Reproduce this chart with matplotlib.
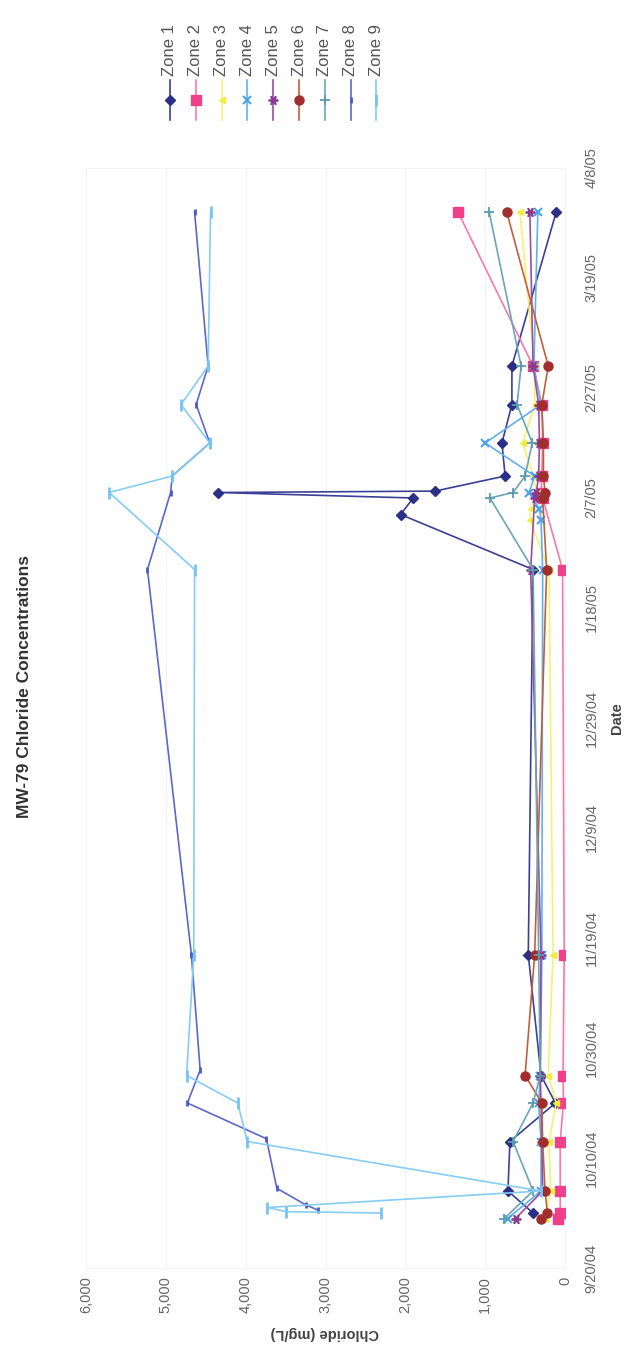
import matplotlib
matplotlib.use("Agg")
import matplotlib.pyplot as plt
import pandas as pd

plt.rcParams['font.family'] = ['Liberation Sans', 'DejaVu Sans']

# ---- data: chloride (mg/L) per zone and sampling time ----
zone1_dates = ['2004-09-30', '2004-10-04', '2004-10-13', '2004-10-20', '2004-10-25',
               '2004-11-16', '2005-01-25', '2005-02-04', '2005-02-07', '2005-02-08 00:00',
               '2005-02-08 06:00', '2005-02-11', '2005-02-17', '2005-02-24', '2005-03-03',
               '2005-03-31']
zone1_vals = [400, 715, 690, 120, 300, 460, 400, 2060, 1900, 4350, 1630, 750, 790, 665, 665, 110]

zone2_dates = ['2004-09-29', '2004-09-30', '2004-10-04', '2004-10-13', '2004-10-20',
               '2004-10-25', '2004-11-16', '2005-01-25', '2005-02-07', '2005-02-08',
               '2005-02-11', '2005-02-17', '2005-02-24', '2005-03-03', '2005-03-31']
zone2_vals = [90, 60, 60, 60, 20, 25, 10, 30, 280, 300, 290, 280, 290, 400, 1340]

zone3_dates = ['2004-09-29', '2004-10-04', '2004-10-13', '2004-10-20', '2004-10-25',
               '2004-11-16', '2005-01-25', '2005-02-03', '2005-02-05', '2005-02-08',
               '2005-02-11', '2005-02-17', '2005-02-24', '2005-03-03', '2005-03-31']
zone3_vals = [250, 180, 200, 110, 210, 150, 200, 440, 430, 350, 400, 530, 380, 380, 565]

zone4_dates = ['2004-09-29', '2004-10-04', '2004-10-13', '2004-10-20', '2004-10-25',
               '2004-11-16', '2005-01-25', '2005-02-03', '2005-02-05', '2005-02-08',
               '2005-02-11', '2005-02-17', '2005-02-24', '2005-03-03', '2005-03-31']
zone4_vals = [720, 300, 300, 330, 310, 290, 280, 300, 320, 450, 380, 1000, 300, 390, 340]

zone5_dates = ['2004-09-29', '2004-10-04', '2004-10-13', '2004-10-20', '2004-10-25',
               '2004-11-16', '2005-01-25', '2005-02-07', '2005-02-08', '2005-02-11',
               '2005-02-17', '2005-02-24', '2005-03-03', '2005-03-31']
zone5_vals = [620, 280, 290, 300, 310, 300, 430, 380, 360, 330, 320, 330, 400, 440]

zone6_dates = ['2004-09-29', '2004-09-30', '2004-10-04', '2004-10-13', '2004-10-20',
               '2004-10-25', '2004-11-16', '2005-01-25', '2005-02-07', '2005-02-08',
               '2005-02-11', '2005-02-17', '2005-02-24', '2005-03-03', '2005-03-31']
zone6_vals = [300, 220, 250, 280, 290, 500, 380, 230, 280, 250, 270, 270, 290, 210, 730]

zone7_dates = ['2004-09-29', '2004-10-04', '2004-10-13', '2004-10-20', '2004-10-25',
               '2004-11-16', '2005-01-25', '2005-02-07', '2005-02-08', '2005-02-11',
               '2005-02-17', '2005-02-24', '2005-03-03', '2005-03-31']
zone7_vals = [760, 400, 650, 400, 310, 330, 400, 940, 650, 500, 410, 600, 550, 950]

zone8_dates = ['2004-09-30 12:00', '2004-10-01 12:00', '2004-10-04 12:00', '2004-10-13 12:00',
               '2004-10-20', '2004-10-26', '2004-11-16', '2005-01-25', '2005-02-08',
               '2005-02-11', '2005-02-17', '2005-02-24', '2005-03-03', '2005-03-31']
zone8_vals = [3090, 3250, 3610, 3740, 4730, 4570, 4680, 5230, 4940, 4920, 4450, 4620, 4470, 4640]

zone9_dates = ['2004-09-30 00:00', '2004-09-30 06:00', '2004-10-01', '2004-10-04', '2004-10-13',
               '2004-10-20', '2004-10-25', '2004-11-16', '2005-01-25', '2005-02-08',
               '2005-02-11', '2005-02-17', '2005-02-24', '2005-03-03', '2005-03-31']
zone9_vals = [2300, 3490, 3730, 300, 3980, 4100, 4740, 4650, 4640, 5710, 4920, 4450, 4810, 4470, 4440]

zone_names = ['Zone 1', 'Zone 2', 'Zone 3', 'Zone 4', 'Zone 5', 'Zone 6', 'Zone 7', 'Zone 8', 'Zone 9']
zone_dates = [zone1_dates, zone2_dates, zone3_dates, zone4_dates, zone5_dates,
              zone6_dates, zone7_dates, zone8_dates, zone9_dates]
zone_vals = [zone1_vals, zone2_vals, zone3_vals, zone4_vals, zone5_vals,
             zone6_vals, zone7_vals, zone8_vals, zone9_vals]

value_ticks = [0, 1000, 2000, 3000, 4000, 5000, 6000]
date_start, date_end = '2004-09-20', '2005-04-08'

# ---- styles ----
colors = ['#2b2f85', '#f0408a', '#f2ec3a', '#4aa3ec', '#8b3a8f',
          '#a12d2d', '#5a9bb0', '#4d5bc6', '#78c4f2']
line_colors = ['#3b3f95', '#f57aab', '#f6f270', '#5fb0ee', '#9a4c9e',
               '#c0603a', '#6aa5b8', '#5a68cc', '#86ccf4']
markers = ['D', 's', '<', 'x', (6, 2, 90), 'o', '+', '|', '|']
msizes = [5, 6.5, 5, 6, 7, 6.5, 7, 5, 9]
mews = [1, 1, 1, 1.5, 1.3, 1, 1.3, 2, 2]

W, H = 630, 1346


def frame(x0, y0, x1, y1):
    return [x0 / W, 1 - y1 / H, (x1 - x0) / W, (y1 - y0) / H]


def is_filled(m):
    return m not in ('x', '+', '|') and not isinstance(m, tuple)


fig = plt.figure(figsize=(W / 100, H / 100), dpi=100)
ax = fig.add_axes(frame(86, 168, 565, 1268))

for i in range(9):
    t = pd.to_datetime(zone_dates[i], format='mixed')
    ax.plot(zone_vals[i], t, color=line_colors[i], lw=1.2,
            marker=markers[i], ms=msizes[i], mew=mews[i],
            mfc=colors[i] if is_filled(markers[i]) else 'none', mec=colors[i],
            zorder=2 + i)

ax.set_xlim(6000, 0)
ax.set_ylim(pd.Timestamp(date_start), pd.Timestamp(date_end))

ax.set_xticks(value_ticks)
ax.set_xticklabels([f"{v:,}" for v in value_ticks])
ax.tick_params(axis='x', labelrotation=90, length=0, pad=6,
               labelsize=10.5, labelcolor='#666666')

date_ticks = pd.date_range(date_start, date_end, freq='20D')
ax.yaxis.tick_right()
ax.set_yticks(date_ticks)
ax.set_yticklabels([f"{d.month}/{d.day}/{d:%y}" for d in date_ticks],
                   rotation=90, va='center')
ax.tick_params(axis='y', length=0, pad=14, labelsize=10.5, labelcolor='#666666')

ax.grid(axis='x', color='#f2f2f2', lw=0.8)
for s in ax.spines.values():
    s.set_color('#f3f3f3')
    s.set_linewidth(0.8)

fig.text(25 / W, 1 - 687 / H, 'MW-79 Chloride Concentrations', rotation=90,
         ha='center', va='center', fontsize=12.5, fontweight='bold', color='#333333')
fig.text(617 / W, 1 - 718 / H, 'Date', rotation=90, ha='center', va='center',
         fontsize=10.5, fontweight='bold', color='#444444')
fig.text(325 / W, 1 - 1333 / H, 'Chloride (mg/L)', rotation=180, ha='center',
         va='center', fontsize=10.5, fontweight='bold', color='#444444')

# legend drawn as a row of vertical swatches
lax = fig.add_axes(frame(150, 0, 400, 140))
lax.set_xlim(150, 400)
lax.set_ylim(140, 0)
lax.axis('off')
leg_x = [170 + 25.8 * i for i in range(9)]
for i in range(9):
    x = leg_x[i]
    lax.plot([x, x], [80, 120], color=line_colors[i], lw=1.2)
    lax.plot([x], [100], marker=markers[i], ms=msizes[i], mew=mews[i],
             mfc=colors[i] if is_filled(markers[i]) else 'none', mec=colors[i], ls='none')
    lax.text(x, 76, zone_names[i], rotation=90, ha='center', va='bottom',
             fontsize=12, color='#555555')

fig.savefig('out.png', dpi=100)
